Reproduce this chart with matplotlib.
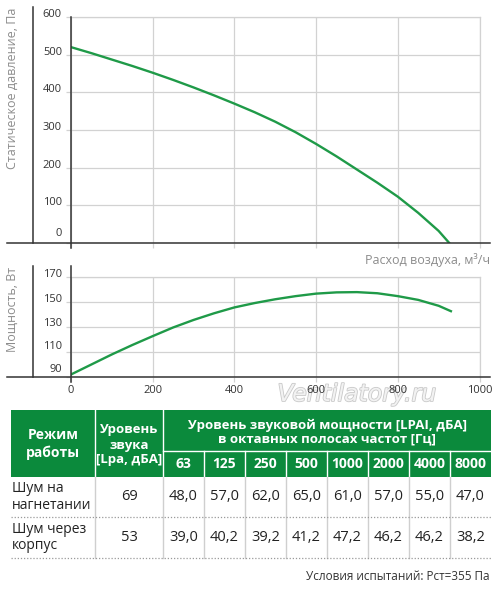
import matplotlib.pyplot as plt
import matplotlib.patheffects as pe
from matplotlib.patches import Rectangle
from matplotlib.transforms import ScaledTranslation

# аэродинамическая характеристика
flow_p = [0, 50, 100, 150, 200, 250, 300, 350, 400, 450, 500, 550, 600, 650, 700, 750, 800, 850, 900, 926]
pressure = [520, 504, 487, 470, 452, 433, 413, 392, 370, 347, 322, 294, 263, 230, 195, 160, 123, 80, 32, 0]

# потребляемая мощность
flow_w = [0, 50, 100, 150, 200, 250, 300, 350, 400, 450, 500, 550, 600, 650, 700, 750, 800, 850, 900, 930]
power = [92, 100, 108, 115.5, 122.6, 129.5, 135.5, 140.8, 145.5, 149, 152, 154.5, 156.5, 157.5, 157.7, 156.8, 154.5, 151.5, 146.8, 142.5]

p_ticks = [0, 100, 200, 300, 400, 500, 600]
w_ticks = [90, 110, 130, 150, 170]
x_ticks = [0, 200, 400, 600, 800, 1000]

# акустика
freqs = ['63', '125', '250', '500', '1000', '2000', '4000', '8000']
modes = ['Шум на\nнагнетании', 'Шум через\nкорпус']
levels = ['69', '53']
noise_out = [48.0, 57.0, 62.0, 65.0, 61.0, 57.0, 55.0, 47.0]
noise_case = [39.0, 40.2, 39.2, 41.2, 47.2, 46.2, 46.2, 38.2]

GREEN = '#0b8a3c'
LINE = '#1f9a48'
GRID = '#d2d2d2'
DARK = '#333333'
GRAY = '#8c8c8c'

plt.rcParams['font.family'] = ['Open Sans', 'DejaVu Sans']

W, H = 500, 591
fig = plt.figure(figsize=(W / 100, H / 100), dpi=100)

# фон-таблица в пикселях
tab = fig.add_axes([0, 0, 1, 1], zorder=-1)
tab.set_xlim(0, W)
tab.set_ylim(H, 0)
tab.axis('off')


def make_axes(top, bottom, ylim, yticks, left_top, offs):
    ax = fig.add_axes([71 / W, 1 - bottom / H, 408.5 / W, (bottom - top) / H])
    ax.set_facecolor('none')
    ax.set_xlim(0, 1000)
    ax.set_ylim(*ylim)
    ax.set_xticks(x_ticks)
    ax.set_yticks(yticks)
    ax.grid(True, color=GRID, lw=0.9, zorder=0)
    ax.set_axisbelow(True)
    for s in ['left', 'bottom']:
        ax.spines[s].set_visible(False)
    for s in ['top', 'right']:
        ax.spines[s].set_color(GRID)
        ax.spines[s].set_linewidth(0.9)
    ax.tick_params(axis='both', color=GRID, length=3.5, width=0.9,
                   labelcolor=DARK, labelsize=8)
    ax.tick_params(axis='y', pad=3)
    ax.tick_params(axis='x', pad=2.5)
    h = bottom - top
    # ось X, левая ось и дальняя тёмная линия
    ax.plot([-64 / 408.5, 419 / 408.5], [0, 0], transform=ax.transAxes,
            color=DARK, lw=1.1, clip_on=False, zorder=5)
    ax.plot([0, 0], [-5 / h, left_top], transform=ax.transAxes,
            color=DARK, lw=1.1, clip_on=False, zorder=5)
    ax.plot([-38 / 408.5, -38 / 408.5], [0, (bottom - top + 10) / h if left_top == 1.0 else left_top],
            transform=ax.transAxes, color=DARK, lw=1.1, clip_on=False)
    for lab, off in zip(ax.get_yticklabels(), offs):
        lab.set_va('baseline')
        lab.set_transform(lab.get_transform() + ScaledTranslation(0, off / 100, fig.dpi_scale_trans))
    return ax


# давление
ax1 = make_axes(17, 243, (0, 600), p_ticks, 1.0, [7, 0, 0, 0, 0, 0, 0])
ax1.tick_params(axis='x', labelbottom=False)
ax1.plot(flow_p, pressure, color=LINE, lw=1.7, zorder=4)
ax1.text(-59 / 408.5, (243 - 8) / 226, 'Статическое давление, Па', transform=ax1.transAxes,
         rotation=90, ha='center', va='top', color=GRAY, fontsize=9)

# мощность
ax2 = make_axes(276.7, 377, (90, 170), w_ticks, (377 - 266) / 100.3, [5, 3, 1, 0, 0])
ax2.plot(flow_w, power, color=LINE, lw=1.7, zorder=4)
ax2.text(-59 / 408.5, (377 - 267) / 100.3, 'Мощность, Вт', transform=ax2.transAxes,
         rotation=90, ha='center', va='top', color=GRAY, fontsize=9)

tab.text(490, 260, 'Расход воздуха, м³/ч', ha='right', va='center', color=GRAY, fontsize=9)

# водяной знак
tab.text(357, 394, 'Ventilatory.ru', ha='center', va='center', fontsize=17,
         style='italic', family='DejaVu Sans', color='#f2f2f2', zorder=0,
         path_effects=[pe.withStroke(linewidth=1.2, foreground='#c9c9c9')])

# таблица
col_x = [11, 95, 163] + [163 + 41 * (i + 1) for i in range(len(freqs))]
y_top, y_mid, y_head, y_r1, y_r2 = 410, 451, 477, 517, 558

tab.add_patch(Rectangle((col_x[0], y_top), col_x[-1] - col_x[0], y_head - y_top,
                        color=GREEN, lw=0, zorder=1))
for x in col_x[1:3]:
    tab.plot([x, x], [y_top, y_head], color='white', lw=1, zorder=2)
tab.plot([col_x[2], col_x[-1]], [y_mid, y_mid], color='white', lw=1, zorder=2)
for x in col_x[3:-1]:
    tab.plot([x, x], [y_mid, y_head], color='white', lw=1, zorder=2)

hdr = dict(color='white', fontweight='bold', ha='center', va='center', zorder=3)
tab.text((col_x[0] + col_x[1]) / 2, 444, 'Режим\nработы', fontsize=10, linespacing=1.25, **hdr)
tab.text((col_x[1] + col_x[2]) / 2, 445, 'Уровень\nзвука\n[Lpa, дБА]', fontsize=9.5,
         linespacing=1.2, **hdr)
tab.text((col_x[2] + col_x[-1]) / 2, 432, 'Уровень звуковой мощности [LPAI, дБА]\nв октавных полосах частот [Гц]',
         fontsize=9.5, linespacing=1.1, **hdr)
for i, f in enumerate(freqs):
    tab.text((col_x[i + 2] + col_x[i + 3]) / 2, 464, f, fontsize=10, **hdr)

for x in col_x[1:-1]:
    tab.plot([x, x], [y_head, y_r2], color='#cfcfcf', lw=1, zorder=2)
for y in [y_r1, y_r2]:
    tab.plot([col_x[0], col_x[-1]], [y, y], color='#9a9a9a', lw=0.9,
             ls=(0, (1, 1.5)), zorder=2)

row_c = [(y_head + y_r1) / 2, (y_r1 + y_r2) / 2]
body = dict(color='#222222', va='center', zorder=3)
for r, (mode, lev, vals) in enumerate(zip(modes, levels, [noise_out, noise_case])):
    tab.text(col_x[0] + 1, row_c[r], mode, ha='left', linespacing=1.15, fontsize=10, **body)
    tab.text((col_x[1] + col_x[2]) / 2, row_c[r], lev, ha='center', fontsize=10.5, **body)
    for i, v in enumerate(vals):
        tab.text((col_x[i + 2] + col_x[i + 3]) / 2, row_c[r],
                 f'{v:.1f}'.replace('.', ','), ha='center', fontsize=10.5, **body)

tab.text(490, 577, 'Условия испытаний: Pст=355 Па', ha='right', va='center',
         color=DARK, fontsize=8.5)

fig.savefig('out.png', dpi=100)
